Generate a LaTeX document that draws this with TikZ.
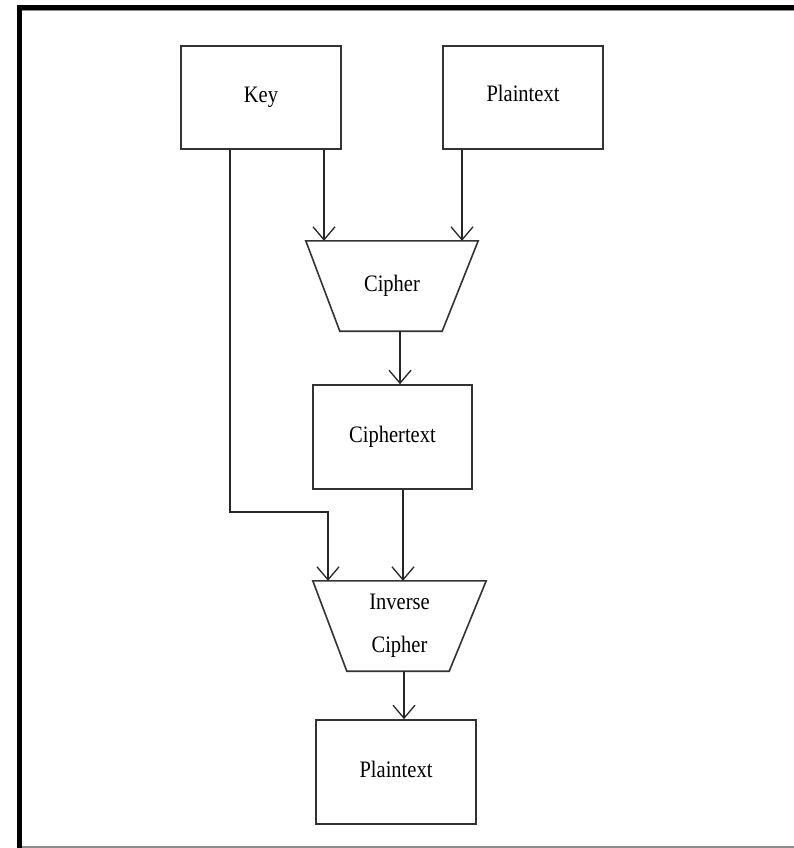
\documentclass[tikz,border=0pt]{standalone}
\usepackage{fontspec}
\setmainfont{Liberation Serif}
\usetikzlibrary{arrows.meta}
\newcommand{\tl}[1]{\scalebox{1}[1.15]{#1}}
\begin{document}
\begin{tikzpicture}[x=1pt,y=-1pt,
  box/.style={draw=black!80,line width=1.6pt,minimum width=160pt,minimum height=103pt,inner sep=0pt,
    font=\fontsize{20.5}{43}\selectfont},
  trap/.style={minimum width=172pt,minimum height=90pt,inner sep=0pt,align=center,
    font=\fontsize{20.5}{43}\selectfont},
  trapline/.style={draw=black!80,line width=1.6pt,line join=miter},
  arr/.style={draw=black!85,line width=1.3pt,-{Straight Barb[length=13pt,width=22pt,line width=1.3pt]}},
  conn/.style={draw=black!85,line width=1.3pt}]
\useasboundingbox (0,0) rectangle (794,848);
\fill[white] (0,0) rectangle (794,848);
% frame
\fill[black] (17,5) rectangle (794,10);
\draw[black!45,line width=1pt] (22,10.8) -- (794,10.8);
\fill[black] (17,5) rectangle (22,848);
\draw[black!45,line width=1.5pt] (22,847) -- (794,847);

% nodes
\node[box] (key) at (261,97.5) {\tl{Key}};
\node[box] (pt1) at (523,97.5) {\raisebox{8pt}{\tl{Plaintext}}};
\node[trap] (cipher) at (392,286) {\tl{Cipher}};
\draw[trapline] (cipher.north west) -- (cipher.north east) -- ([xshift=-36pt]cipher.south east) -- ([xshift=34pt]cipher.south west) -- cycle;
\node[box,minimum width=159pt,minimum height=104pt] (ct) at (392.5,437) {\raisebox{-3pt}{\tl{Ciphertext}}};
\node[trap,minimum width=173pt] (inv) at (399.5,626) {\tl{Inverse}\\\tl{Cipher}};
\draw[trapline] (inv.north west) -- (inv.north east) -- ([xshift=-37pt]inv.south east) -- ([xshift=34pt]inv.south west) -- cycle;
\node[box,minimum height=104pt] (pt2) at (396,772) {\raisebox{5pt}{\tl{Plaintext}}};

% helper coordinates
\coordinate (kx) at (324,0);
\coordinate (px) at (462,0);
\coordinate (cx) at (400,0);
\coordinate (tx) at (403,0);
\coordinate (ix) at (404,0);
\coordinate (kbend) at (230,512);
\coordinate (kin) at (328,0);

% connectors
\draw[arr] (key.south -| kx) -- (cipher.north -| kx);
\draw[arr] (pt1.south -| px) -- (cipher.north -| px);
\draw[arr] (cipher.south -| cx) -- (ct.north -| cx);
\draw[arr] (ct.south -| tx) -- (inv.north -| tx);
\draw[arr] (key.south -| kbend) -- (kbend) -| (inv.north -| kin);
\draw[arr] (inv.south -| ix) -- (pt2.north -| ix);
\end{tikzpicture}
\end{document}
